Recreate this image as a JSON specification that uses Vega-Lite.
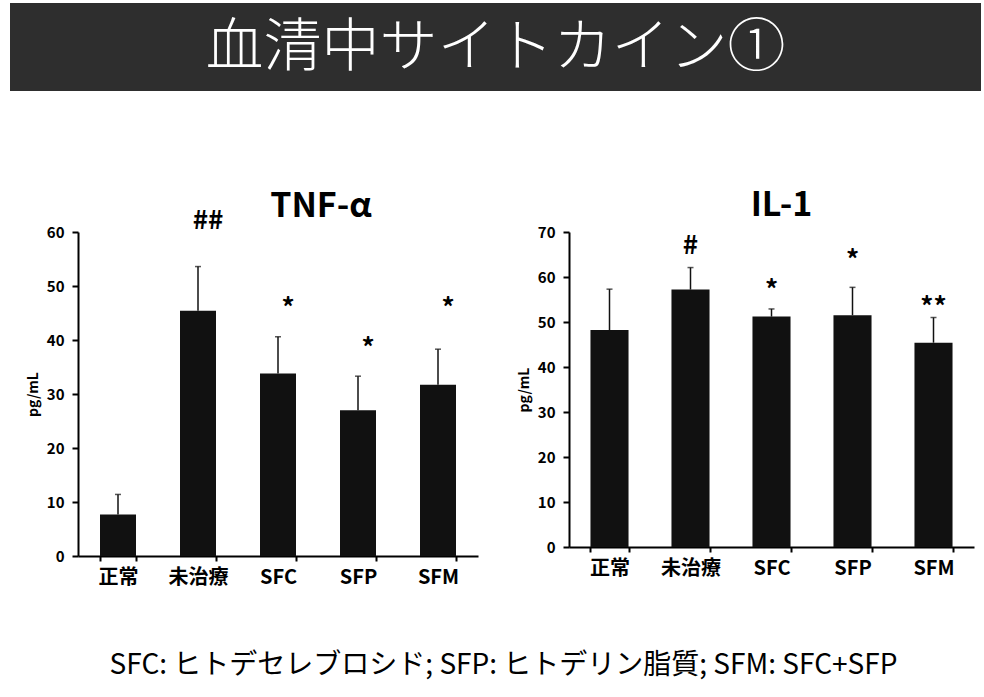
{
  "$schema": "https://vega.github.io/schema/vega-lite/v6.json",
  "padding": {"left": 10, "top": 3, "right": 0, "bottom": 0},
  "background": "white",
  "config": {
    "view": {"stroke": null},
    "font": "Noto Sans CJK JP",
    "axis": {"labelColor": "#000", "titleColor": "#000", "domainColor": "#000", "tickColor": "#000", "grid": false},
    "title": {"color": "#000"}
  },
  "datasets": {
    "tnf": [
      {"group": "正常", "value": 7.7, "err": 11.4, "sig": "", "sig_y": 0},
      {"group": "未治療", "value": 45.4, "err": 53.6, "sig": "##", "sig_y": 62},
      {"group": "SFC", "value": 33.8, "err": 40.6, "sig": "*", "sig_y": 45.7},
      {"group": "SFP", "value": 27.0, "err": 33.3, "sig": "*", "sig_y": 38.3},
      {"group": "SFM", "value": 31.7, "err": 38.3, "sig": "*", "sig_y": 45.7}
    ],
    "il1": [
      {"group": "正常", "value": 48.2, "err": 57.3, "sig": "", "sig_y": 0},
      {"group": "未治療", "value": 57.2, "err": 62.1, "sig": "#", "sig_y": 66.8},
      {"group": "SFC", "value": 51.2, "err": 52.9, "sig": "*", "sig_y": 56.8},
      {"group": "SFP", "value": 51.5, "err": 57.7, "sig": "*", "sig_y": 63.5},
      {"group": "SFM", "value": 45.4, "err": 51.0, "sig": "**", "sig_y": 53.1}
    ]
  },
  "vconcat": [
    {
      "width": 971,
      "height": 88,
      "view": {"fill": "#2e2e2e", "stroke": null},
      "data": {"values": [{"t": "血清中サイトカイン①"}]},
      "mark": {"type": "text", "color": "#ffffff", "fontSize": 58, "fontWeight": 300, "baseline": "middle", "align": "center", "dy": 2},
      "encoding": {"text": {"field": "t"}}
    },
    {
      "vconcat": [
        {
          "hconcat": [
            {
              "width": 16,
              "height": 10,
              "data": {"values": []},
              "mark": {"type": "text"},
              "encoding": {}
            },
            {
              "hconcat": [
                {
                  "width": 400,
                  "height": 324,
                  "title": {"text": "TNF-α", "fontSize": 34, "fontWeight": "bold", "dx": 43, "offset": -16, "frame": "group"},
                  "data": {"name": "tnf"},
                  "encoding": {
                    "x": {
                      "field": "group", "type": "nominal",
                      "sort": ["正常", "未治療", "SFC", "SFP", "SFM"],
                      "scale": {"paddingInner": 0.55, "paddingOuter": 0.275},
                      "axis": {"title": null, "labelAngle": 0, "tickBand": "extent", "labelFontSize": 20, "labelFontWeight": "bold", "domainWidth": 2, "tickWidth": 2, "tickSize": 5, "labelPadding": 6}
                    }
                  },
                  "layer": [
                    {
                      "mark": {"type": "bar", "color": "#111111"},
                      "encoding": {
                        "y": {"field": "value", "type": "quantitative", "scale": {"domain": [0, 60]},
                          "axis": {"title": "pg/mL", "values": [0, 10, 20, 30, 40, 50, 60], "labelFontSize": 15, "labelFontWeight": "bold", "titleFontSize": 14, "titleFontWeight": "bold", "domainWidth": 2, "tickWidth": 2, "tickSize": 6, "labelPadding": 8, "titlePadding": 6}}
                      }
                    },
                    {
                      "mark": {"type": "rule", "color": "#111111", "strokeWidth": 1.5},
                      "encoding": {"y": {"field": "value", "type": "quantitative"}, "y2": {"field": "err"}}
                    },
                    {
                      "mark": {"type": "tick", "color": "#111111", "thickness": 1.5, "size": 6},
                      "encoding": {"y": {"field": "err", "type": "quantitative"}}
                    },
                    {
                      "mark": {"type": "text", "fontSize": 26, "fontWeight": "bold", "dx": 10, "baseline": "middle", "color": "#000"},
                      "encoding": {"y": {"field": "sig_y", "type": "quantitative"}, "text": {"field": "sig"}}
                    }
                  ]
                },
                {
                  "width": 405,
                  "height": 315,
                  "title": {"text": "IL-1", "fontSize": 34, "fontWeight": "bold", "dx": 10, "offset": 2, "frame": "group"},
                  "data": {"name": "il1"},
                  "encoding": {
                    "x": {
                      "field": "group", "type": "nominal",
                      "sort": ["正常", "未治療", "SFC", "SFP", "SFM"],
                      "scale": {"paddingInner": 0.53, "paddingOuter": 0.265},
                      "axis": {"title": null, "labelAngle": 0, "tickBand": "extent", "labelFontSize": 20, "labelFontWeight": "bold", "domainWidth": 2, "tickWidth": 2, "tickSize": 5, "labelPadding": 6}
                    }
                  },
                  "layer": [
                    {
                      "mark": {"type": "bar", "color": "#111111"},
                      "encoding": {
                        "y": {"field": "value", "type": "quantitative", "scale": {"domain": [0, 70]},
                          "axis": {"title": "pg/mL", "values": [0, 10, 20, 30, 40, 50, 60, 70], "labelFontSize": 15, "labelFontWeight": "bold", "titleFontSize": 14, "titleFontWeight": "bold", "domainWidth": 2, "tickWidth": 2, "tickSize": 6, "labelPadding": 8, "titlePadding": 6}}
                      }
                    },
                    {
                      "mark": {"type": "rule", "color": "#111111", "strokeWidth": 1.5},
                      "encoding": {"y": {"field": "value", "type": "quantitative"}, "y2": {"field": "err"}}
                    },
                    {
                      "mark": {"type": "tick", "color": "#111111", "thickness": 1.5, "size": 6},
                      "encoding": {"y": {"field": "err", "type": "quantitative"}}
                    },
                    {
                      "mark": {"type": "text", "fontSize": 26, "fontWeight": "bold", "dx": 0, "baseline": "middle", "color": "#000"},
                      "encoding": {"y": {"field": "sig_y", "type": "quantitative"}, "text": {"field": "sig"}}
                    }
                  ]
                }
              ],
              "spacing": 39
            }
          ],
          "spacing": 0
        },
        {
          "width": 971,
          "height": 50,
          "data": {"values": [{"t": "SFC: ヒトデセレブロシド; SFP: ヒトデリン脂質; SFM: SFC+SFP"}]},
          "mark": {"type": "text", "color": "#000", "fontSize": 28, "baseline": "middle", "align": "center", "dx": 8},
          "encoding": {"text": {"field": "t"}}
        }
      ],
      "spacing": 54
    }
  ],
  "spacing": 98
}
